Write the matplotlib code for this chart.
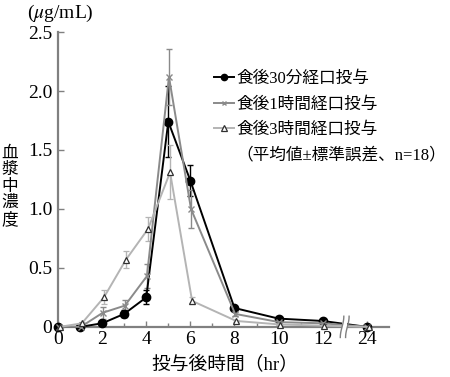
import matplotlib

matplotlib.use("Agg")

import matplotlib.pyplot as plt
import numpy as np
from matplotlib.lines import Line2D

plt.rcParams["font.family"] = ["Liberation Serif", "Noto Sans CJK JP", "DejaVu Sans"]
plt.rcParams["mathtext.fontset"] = "stix"

# sampling times (hr); 24 h is drawn after the axis break at position 14
times = np.array([0, 1, 2, 3, 4, 5, 6, 8, 10, 12, 24])
tick_pos = [0, 2, 4, 6, 8, 10, 12, 14]
tick_labels = ["0", "2", "4", "6", "8", "10", "12", "24"]

labels = ["食後30分経口投与", "食後1時間経口投与", "食後3時間経口投与"]
note = "（平均値±標準誤差、n=18）"

mean_30min = [0, 0, 0.03, 0.11, 0.25, 1.74, 1.24, 0.16, 0.07, 0.05, 0]
se_30min = [0, 0, 0.01, 0.03, 0.06, 0.30, 0.13, 0.02, 0.01, 0.01, 0]
mean_1h = [0, 0, 0.12, 0.18, 0.43, 2.12, 1.00, 0.11, 0.04, 0.03, 0]
se_1h = [0, 0, 0.05, 0.05, 0.10, 0.24, 0.16, 0.02, 0.01, 0.01, 0]
mean_3h = [0, 0.03, 0.25, 0.57, 0.83, 1.31, 0.22, 0.05, 0.02, 0.01, 0]
se_3h = [0, 0.01, 0.06, 0.07, 0.10, 0.23, 0.03, 0.01, 0.005, 0.005, 0]

xpos = np.where(times == 24, 14, times).astype(float)

fig = plt.figure(figsize=(4.5, 3.77), dpi=100)
ax = fig.add_axes([0.129, 0.133, 0.735, 0.782])

styles = [
    (mean_30min, se_30min, 0.0, dict(color="black", marker="o", ms=6,
                                     mfc="black", mec="black")),
    (mean_1h, se_1h, 0.03, dict(color="#8a8a8a", marker="x", ms=4.5,
                                mew=1.0)),
    (mean_3h, se_3h, 0.08, dict(color="#b4b4b4", marker="^", ms=5,
                                mfc="white", mec="#303030", mew=0.9)),
]
handles = []
for (m, s, dx, st), lab in zip(styles, labels):
    col = st["color"]
    ax.errorbar(xpos + dx, m, yerr=s, color=col, ecolor=col, elinewidth=1.0,
                capsize=2.5, capthick=1.0, lw=1.4, clip_on=False, zorder=3,
                **{k: v for k, v in st.items() if k != "color"})
    hs = dict(st)
    hs["ms"] = st["ms"] * 0.75
    handles.append(Line2D([], [], lw=1.4, **hs))
handles.append(Line2D([], [], color="none"))

ax.set_xlim(0, 15)
ax.set_ylim(0, 2.5)
ax.set_xticks(tick_pos)
ax.set_xticklabels(tick_labels)
ax.set_xticks(np.arange(1, 14, 2), minor=True)
ax.set_yticks([0, 0.5, 1.0, 1.5, 2.0, 2.5])
ax.set_yticklabels(["0", "0.5", "1.0", "1.5", "2.0", "2.5"])
ax.tick_params(which="both", direction="in", color="#808080", width=1.0,
               labelsize=14, pad=3)
ax.tick_params(which="major", length=4)
ax.tick_params(which="minor", length=3)
ax.tick_params(axis="y", pad=4)

for side in ("top", "right"):
    ax.spines[side].set_visible(False)
for side in ("left", "bottom"):
    ax.spines[side].set_color("#808080")
    ax.spines[side].set_linewidth(1.6)

# axis break between 12 and 24
yy = np.linspace(-0.09, 0.09, 20)
for off in (-0.12, 0.12):
    ax.plot(13 + off + 0.08 * np.sin(yy / 0.09 * np.pi / 2), yy,
            color="#808080", lw=1.0, clip_on=False, zorder=4)
ax.fill_betweenx(yy, 13 - 0.1, 13 + 0.1, color="white", clip_on=False,
                 zorder=3.5, lw=0)

ax.legend(handles, labels + [note], loc="upper left",
          bbox_to_anchor=(0.45, 0.89), frameon=False, fontsize=12.0,
          handlelength=1.2, handletextpad=0.15, labelspacing=0.56,
          borderaxespad=0)

fig.text(0.135, 0.965, r"($\mu$g/mL)", ha="center", va="center", fontsize=14)
fig.text(0.022, 0.505, "\n".join("血漿中濃度"), ha="center", va="center",
         fontsize=12, linespacing=1.05)
fig.text(0.5, 0.033, "投与後時間（hr）", ha="center", va="center",
         fontsize=13.5)

fig.savefig("out.png", dpi=100)
